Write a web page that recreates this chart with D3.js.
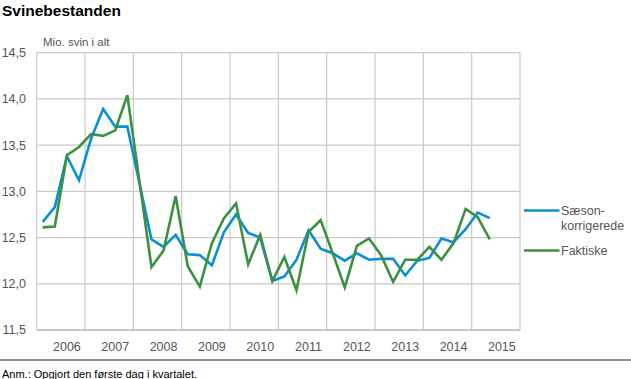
<!DOCTYPE html>
<html>
<head>
<meta charset="utf-8">
<script src="https://cdn.jsdelivr.net/npm/d3@7"></script>
<style>
  body { margin: 0; background: #fff; }
  svg { display: block; font-family: "Liberation Sans", Arial, sans-serif; }
</style>
</head>
<body>
<svg id="chart" width="631" height="379"></svg>
<script>
// Quarterly data, 2006 Q1 – 2015 Q2 (mio. svin)
const years = ["2006","2007","2008","2009","2010","2011","2012","2013","2014","2015"];
const yTicks = [11.5, 12.0, 12.5, 13.0, 13.5, 14.0, 14.5];
const saesonkorrigerede = [
  12.67, 12.83, 13.38, 13.12, 13.57, 13.89, 13.70, 13.70,
  13.09, 12.48, 12.40, 12.53, 12.32, 12.31, 12.20, 12.56,
  12.75, 12.55, 12.50, 12.03, 12.08, 12.26, 12.58, 12.38,
  12.33, 12.25, 12.33, 12.26, 12.27, 12.27, 12.09, 12.25,
  12.28, 12.49, 12.45, 12.59, 12.77, 12.71
];
const faktiske = [
  12.61, 12.62, 13.39, 13.48, 13.62, 13.60, 13.66, 14.04,
  13.11, 12.18, 12.36, 12.95, 12.19, 11.97, 12.44, 12.71,
  12.87, 12.21, 12.53, 12.03, 12.29, 11.93, 12.56, 12.69,
  12.33, 11.96, 12.41, 12.49, 12.31, 12.02, 12.26, 12.26,
  12.40, 12.26, 12.44, 12.81, 12.72, 12.48
];
const seriesNames = ["Sæson-\nkorrigerede", "Faktiske"];
const seriesColors = ["#0a8fd6", "#3a9140"];

const svg = d3.select("#chart");
const x = d3.scaleLinear().domain([0, years.length * 4]).range([36.7, 520]);
const y = d3.scaleLinear().domain([11.5, 14.5]).range([330, 52.7]);

// Title
svg.append("text").attr("x", 2).attr("y", 16)
  .attr("font-size", 15.5).attr("font-weight", "bold").attr("fill", "#000")
  .text("Svinebestanden");

// Unit label
svg.append("text").attr("x", 43).attr("y", 45.5)
  .attr("font-size", 11.5).attr("fill", "#555")
  .text("Mio. svin i alt");

// Horizontal gridlines
svg.append("g").selectAll("line").data(yTicks.filter(d => d > 11.5)).join("line")
  .attr("x1", x(0)).attr("x2", x(years.length * 4))
  .attr("y1", d => y(d)).attr("y2", d => y(d))
  .attr("stroke", "#c9c9c9").attr("stroke-width", 1.2);

// Vertical gridlines (year boundaries)
svg.append("g").selectAll("line").data(d3.range(0, years.length + 1)).join("line")
  .attr("x1", d => x(d * 4)).attr("x2", d => x(d * 4))
  .attr("y1", y(14.5)).attr("y2", y(11.5))
  .attr("stroke", "#c9c9c9").attr("stroke-width", 1.2);

// Bottom axis line
svg.append("line")
  .attr("x1", x(0)).attr("x2", x(years.length * 4))
  .attr("y1", y(11.5)).attr("y2", y(11.5))
  .attr("stroke", "#b5b5b5").attr("stroke-width", 1.4);

// Y tick labels
const fmt = d => d3.format(".1f")(d).replace(".", ",");
svg.append("g").selectAll("text").data(yTicks).join("text")
  .attr("x", 26).attr("y", d => y(d)).attr("dy", "0.35em")
  .attr("text-anchor", "end").attr("font-size", 12.5).attr("fill", "#555")
  .text(fmt);

// X labels (years)
svg.append("g").selectAll("text").data(years).join("text")
  .attr("x", (d, i) => x(i * 4 + 2.5)).attr("y", 351)
  .attr("text-anchor", "middle").attr("font-size", 12.5).attr("fill", "#555")
  .text(d => d);

// Lines
const line = d3.line().x((d, i) => x(i + 0.5)).y(d => y(d));
[saesonkorrigerede, faktiske].forEach((s, k) => {
  svg.append("path").datum(s)
    .attr("d", line).attr("fill", "none")
    .attr("stroke", seriesColors[k]).attr("stroke-width", 2.6)
    .attr("stroke-linejoin", "miter");
});

// Legend
const legendY = [210.5, 250.5];
seriesNames.forEach((name, k) => {
  const g = svg.append("g");
  g.append("line").attr("x1", 524).attr("x2", 559.5)
    .attr("y1", legendY[k]).attr("y2", legendY[k])
    .attr("stroke", seriesColors[k]).attr("stroke-width", 2.6);
  name.split("\n").forEach((ln, j) => {
    g.append("text").attr("x", 561).attr("y", legendY[k] + 4.5 + j * 14.5)
      .attr("font-size", 12.5).attr("fill", "#555").text(ln);
  });
});

// Separator line
svg.append("line").attr("x1", 0).attr("x2", 631).attr("y1", 360).attr("y2", 360)
  .attr("stroke", "#5c6f80").attr("stroke-width", 1.5);

// Footnote
svg.append("text").attr("x", 2).attr("y", 377.5)
  .attr("font-size", 11).attr("fill", "#000")
  .text("Anm.: Opgjort den første dag i kvartalet.");
</script>
</body>
</html>
